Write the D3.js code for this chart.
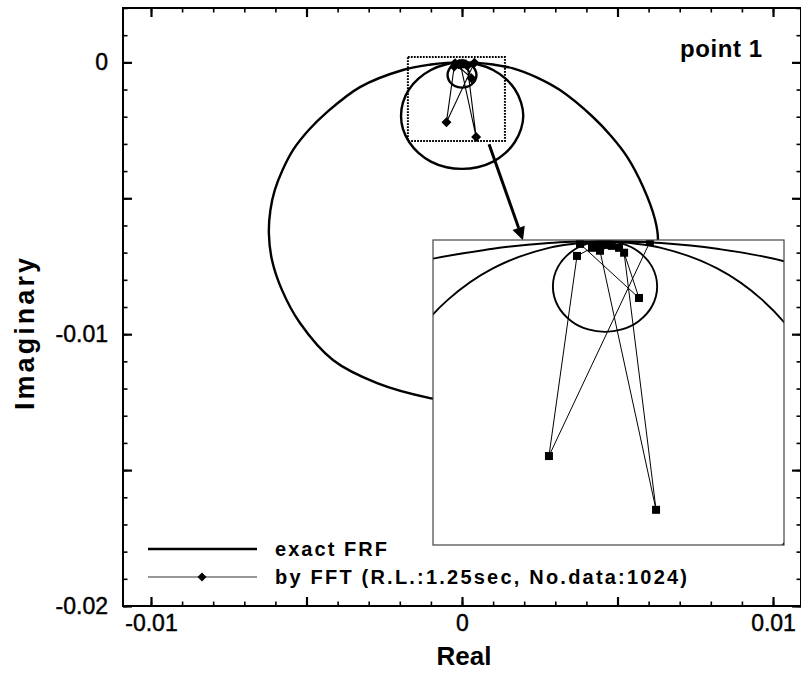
<!DOCTYPE html>
<html>
<head>
<meta charset="utf-8">
<script src="https://cdn.jsdelivr.net/npm/d3@7"></script>
<style>
  body { margin: 0; background: #fff; }
  svg { display: block; }
  text { font-family: "Liberation Sans", Arial, Helvetica, sans-serif; fill: #000; }
</style>
</head>
<body>
<svg id="chart" width="801" height="673"></svg>
<script>
// ---- exact FRF (real, imaginary) : three modal loops meeting at the origin ----
const exactLoop1 = [
  [0, 0], [0.0005, -0.00002], [0.001, -0.00008], [0.00164, -0.00022], [0.0024, -0.00055],
  [0.00315, -0.00102], [0.00421, -0.00201], [0.0048, -0.00272], [0.00531, -0.00348],
  [0.00582, -0.00458], [0.00621, -0.0058], [0.0063, -0.00654], [0.00606, -0.0080],
  [0.00545, -0.00945], [0.00445, -0.01075], [0.00315, -0.0117], [0.00163, -0.01232],
  [0, -0.01252], [-0.00103, -0.01235], [-0.00273, -0.0118], [-0.00415, -0.01095],
  [-0.00521, -0.00959], [-0.00579, -0.00837], [-0.00611, -0.00727], [-0.00621, -0.00628],
  [-0.00616, -0.00543], [-0.00602, -0.0047], [-0.00577, -0.00396], [-0.00543, -0.00322],
  [-0.00492, -0.00248], [-0.00434, -0.00183], [-0.00328, -0.00091], [-0.0019, -0.00028],
  [-0.001, -0.00008], [-0.0005, -0.00002], [0, 0]
];
const exactLoop2 = [
  [0, 0], [0.0005, -0.00007], [0.001, -0.00028], [0.0014, -0.0006], [0.0017, -0.00099],
  [0.0019, -0.00148], [0.00197, -0.00196], [0.0019, -0.00245], [0.0017, -0.00293],
  [0.0014, -0.00333], [0.001, -0.00365], [0.0005, -0.00386], [0, -0.00392],
  [-0.0005, -0.00386], [-0.001, -0.00365], [-0.0014, -0.00333], [-0.0017, -0.00293],
  [-0.0019, -0.00245], [-0.00196, -0.00196], [-0.0019, -0.00148], [-0.0017, -0.00099],
  [-0.0014, -0.0006], [-0.001, -0.00028], [-0.0005, -0.00007], [0, 0]
];
const exactLoop3 = [
  [0, 0], [0.00015, -0.000025], [0.0003, -0.00011], [0.00042, -0.000265], [0.000465, -0.000465],
  [0.00042, -0.000665], [0.0003, -0.00082], [0.00015, -0.000905], [0, -0.00093],
  [-0.00015, -0.000905], [-0.0003, -0.00082], [-0.00042, -0.000665], [-0.000465, -0.000465],
  [-0.00042, -0.000265], [-0.0003, -0.00011], [-0.00015, -0.000025], [0, 0]
];

// ---- FRF estimated by FFT (real, imaginary), in frequency order ----
const fftReal = [0, -0.00007, -0.000116, -0.00025, -0.0005, 0.0004, -0.000223, 0.000303, 0.00017, 0.000455, -0.000045, 0.00006, 0.000125];
const fftImag = [-0.00004, -0.00005, -0.00007, -0.000153, -0.0022, -0.00001, -0.00003, -0.000583, -0.00012, -0.00275, -0.0001, -0.00005, -0.00007];

// ---- axes ----
const xDomain = [-0.0109, 0.0109];
const yDomain = [-0.02, 0.002];
const xLabelTicks = [-0.01, 0, 0.01];
const yLabelTicks = [0, -0.01, -0.02];
const majorStep = 0.005;
const minorStep = 0.001;

// ---- zoomed region and inset view ----
const zoomReal = [-0.00174, 0.00138];
const zoomImag = [0.0002, -0.00289];
const insetXDomain = [-0.001534, 0.001596];
const insetYDomain = [-0.00311, 0.00001];
const arrowReal = [0.00087, 0.00196];
const arrowImag = [-0.00301, -0.00654];

const legendLabels = ["exact FRF", "by FFT (R.L.:1.25sec, No.data:1024)"];
const panelTitle = "point 1";
const xTitle = "Real";
const yTitle = "Imaginary";

// ---------------------------------------------------------------
const svg = d3.select("#chart");
const frame = { left: 123, right: 801, top: 8, bottom: 606 };
const x = d3.scaleLinear().domain(xDomain).range([frame.left, frame.right]);
const y = d3.scaleLinear().domain(yDomain).range([frame.bottom, frame.top]);

const fft = fftReal.map((r, i) => [r, fftImag[i]]);

const defs = svg.append("defs");
defs.append("clipPath").attr("id", "plotClip").append("rect")
  .attr("x", frame.left).attr("y", frame.top)
  .attr("width", frame.right - frame.left).attr("height", frame.bottom - frame.top);

const plot = svg.append("g").attr("clip-path", "url(#plotClip)");

function loopLine(sx, sy) {
  return d3.line().x(d => sx(d[0])).y(d => sy(d[1])).curve(d3.curveCatmullRom.alpha(0.5));
}
const mainLine = loopLine(x, y);
[exactLoop1, exactLoop2, exactLoop3].forEach(loop => {
  plot.append("path").attr("d", mainLine(loop))
    .attr("fill", "none").attr("stroke", "#000").attr("stroke-width", 2.4)
    .attr("stroke-linejoin", "round");
});

// FFT estimate: thin polyline with diamonds
plot.append("path")
  .attr("d", d3.line().x(d => x(d[0])).y(d => y(d[1]))(fft))
  .attr("fill", "none").attr("stroke", "#000").attr("stroke-width", 1.1);
const diamond = r => `M0,${-r}L${r},0L0,${r}L${-r},0Z`;
plot.selectAll(".dm").data(fft).join("path").attr("class", "dm")
  .attr("transform", d => `translate(${x(d[0])},${y(d[1])})`)
  .attr("d", diamond(5)).attr("fill", "#000");

// dotted box around the zoomed region
plot.append("rect")
  .attr("x", x(zoomReal[0])).attr("y", y(zoomImag[0]))
  .attr("width", x(zoomReal[1]) - x(zoomReal[0]))
  .attr("height", y(zoomImag[1]) - y(zoomImag[0]))
  .attr("fill", "none").attr("stroke", "#000").attr("stroke-width", 2)
  .attr("stroke-dasharray", "1.8,1.2");

// arrow to the inset
const ax0 = x(arrowReal[0]), ay0 = y(arrowImag[0]);
const ax1 = x(arrowReal[1]), ay1 = y(arrowImag[1]);
const ang = Math.atan2(ay1 - ay0, ax1 - ax0);
const headLen = 13, headHalf = 6.5;
const bx = ax1 - headLen * Math.cos(ang), by = ay1 - headLen * Math.sin(ang);
plot.append("line").attr("x1", ax0).attr("y1", ay0).attr("x2", bx).attr("y2", by)
  .attr("stroke", "#000").attr("stroke-width", 3);
plot.append("path")
  .attr("d", `M${ax1},${ay1}L${bx - headHalf * Math.sin(ang)},${by + headHalf * Math.cos(ang)}L${bx + headHalf * Math.sin(ang)},${by - headHalf * Math.cos(ang)}Z`)
  .attr("fill", "#000");

// ---- inset: magnified view around the origin ----
const inset = { left: 433, right: 784, top: 240, bottom: 545 };
const ix = d3.scaleLinear().domain(insetXDomain).range([inset.left, inset.right]);
const iy = d3.scaleLinear().domain(insetYDomain).range([inset.bottom, inset.top]);
defs.append("clipPath").attr("id", "insetClip").append("rect")
  .attr("x", inset.left).attr("y", inset.top)
  .attr("width", inset.right - inset.left).attr("height", inset.bottom - inset.top);
svg.append("rect")
  .attr("x", inset.left).attr("y", inset.top)
  .attr("width", inset.right - inset.left).attr("height", inset.bottom - inset.top)
  .attr("fill", "#fff");
const ig = svg.append("g").attr("clip-path", "url(#insetClip)");
const insetLine = loopLine(ix, iy);
[exactLoop1, exactLoop2, exactLoop3].forEach(loop => {
  ig.append("path").attr("d", insetLine(loop))
    .attr("fill", "none").attr("stroke", "#000").attr("stroke-width", 1.9);
});
ig.append("path")
  .attr("d", d3.line().x(d => ix(d[0])).y(d => iy(d[1]))(fft))
  .attr("fill", "none").attr("stroke", "#000").attr("stroke-width", 1);
ig.selectAll(".sq").data(fft).join("rect").attr("class", "sq")
  .attr("x", d => ix(d[0]) - 4).attr("y", d => iy(d[1]) - 4)
  .attr("width", 8).attr("height", 8).attr("fill", "#000");
svg.append("rect")
  .attr("x", inset.left).attr("y", inset.top)
  .attr("width", inset.right - inset.left).attr("height", inset.bottom - inset.top)
  .attr("fill", "none").attr("stroke", "#444").attr("stroke-width", 1.2);

// ---- frame and mirrored ticks on all four sides ----
const majorX = d3.range(-0.01, 0.0101, majorStep).map(v => +v.toFixed(4));
const minorX = d3.range(-0.010, 0.0109, minorStep).map(v => +v.toFixed(4));
const majorY = d3.range(-0.02, 0.0001, majorStep).map(v => +v.toFixed(4));
const minorY = d3.range(-0.02, 0.0021, minorStep).map(v => +v.toFixed(4));
const labelled = xLabelTicks.concat(yLabelTicks);
const fmt = d => labelled.some(t => Math.abs(t - d) < 1e-9) ? (d === 0 ? "0" : String(d)) : "";

function styleAxis(g, width) {
  g.select(".domain").remove();
  g.selectAll(".tick line").attr("stroke", "#000").attr("stroke-width", width);
  g.selectAll(".tick text").attr("font-size", 23).attr("fill", "#000")
    .attr("stroke", "#000").attr("stroke-width", 0.45)
    .attr("font-family", "'Liberation Sans', Arial, sans-serif");
}

const minorAxes = [
  { a: d3.axisBottom(x).tickValues(minorX), t: `translate(0,${frame.bottom})` },
  { a: d3.axisTop(x).tickValues(minorX), t: `translate(0,${frame.top})` },
  { a: d3.axisLeft(y).tickValues(minorY), t: `translate(${frame.left},0)` },
  { a: d3.axisRight(y).tickValues(minorY), t: `translate(${frame.right},0)` }
];
minorAxes.forEach(ax => {
  svg.append("g").attr("transform", ax.t)
    .call(ax.a.tickSize(-4.5).tickFormat(""))
    .call(g => styleAxis(g, 1.6));
});
const majorAxes = [
  { a: d3.axisBottom(x).tickValues(majorX).tickSize(-9).tickPadding(9).tickFormat(fmt), t: `translate(0,${frame.bottom})` },
  { a: d3.axisTop(x).tickValues(majorX).tickSize(-9).tickFormat(""), t: `translate(0,${frame.top})` },
  { a: d3.axisLeft(y).tickValues(majorY).tickSize(-9).tickPadding(15).tickFormat(fmt), t: `translate(${frame.left},0)` },
  { a: d3.axisRight(y).tickValues(majorY).tickSize(-9).tickFormat(""), t: `translate(${frame.right},0)` }
];
majorAxes.forEach(ax => {
  svg.append("g").attr("transform", ax.t).call(ax.a).call(g => styleAxis(g, 2.2));
});

svg.append("rect")
  .attr("x", frame.left).attr("y", frame.top)
  .attr("width", frame.right - frame.left).attr("height", frame.bottom - frame.top)
  .attr("fill", "none").attr("stroke", "#000").attr("stroke-width", 2);

// ---- titles ----
svg.append("text").attr("x", 464).attr("y", 665).attr("text-anchor", "middle")
  .attr("font-size", 26).attr("font-weight", "bold").text(xTitle);
svg.append("text").attr("transform", "translate(34,334) rotate(-90)").attr("text-anchor", "middle")
  .attr("font-size", 27).attr("font-weight", "bold")
  .attr("textLength", 152).text(yTitle);
svg.append("text").attr("x", 680).attr("y", 57)
  .attr("font-size", 24).attr("font-weight", "bold")
  .attr("textLength", 82).text(panelTitle);

// ---- legend ----
const legend = svg.append("g");
const legY = [549, 577];
legend.append("line").attr("x1", 148).attr("x2", 257).attr("y1", legY[0]).attr("y2", legY[0])
  .attr("stroke", "#000").attr("stroke-width", 2.6);
legend.append("line").attr("x1", 148).attr("x2", 257).attr("y1", legY[1]).attr("y2", legY[1])
  .attr("stroke", "#333").attr("stroke-width", 1.2);
legend.append("path").attr("transform", `translate(202,${legY[1]})`).attr("d", diamond(4.5)).attr("fill", "#000");
const legWidths = [112, 412];
legendLabels.forEach((s, i) => {
  legend.append("text").attr("x", 275).attr("y", legY[i] + 7)
    .attr("font-size", 20).attr("font-weight", "bold")
    .attr("textLength", legWidths[i]).text(s);
});
</script>
</body>
</html>
